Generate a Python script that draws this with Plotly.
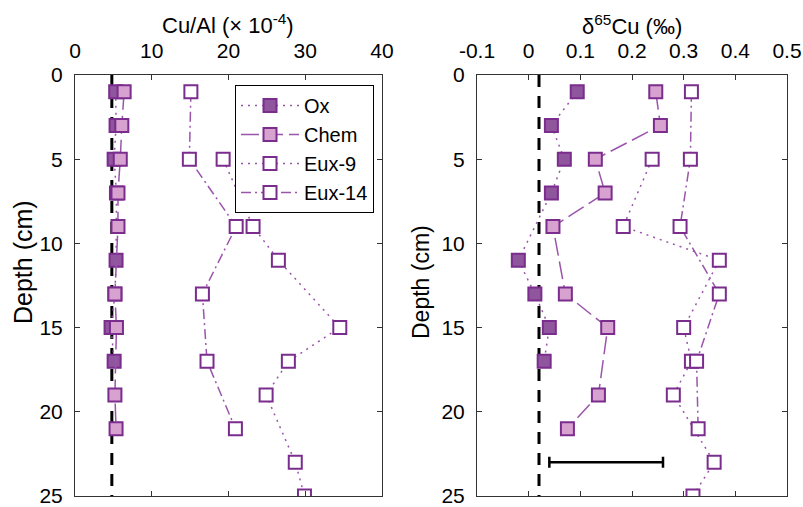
import plotly.graph_objects as go

# ---- data ----
ox_depth = [1, 3, 5, 7, 11, 13, 15, 17]
ox_cual = [5.3, 5.35, 5.1, 5.4, 5.35, 5.2, 4.7, 5.1]
ox_d65 = [0.094, 0.044, 0.069, 0.044, -0.02, 0.012, 0.04, 0.03]

chem_depth = [1, 3, 5, 7, 9, 13, 15, 19, 21]
chem_cual = [6.4, 6.1, 5.9, 5.6, 5.6, 5.2, 5.4, 5.2, 5.35]
chem_d65 = [0.246, 0.255, 0.129, 0.148, 0.047, 0.071, 0.153, 0.135, 0.075]

eux9_depth = [5, 9, 11, 15, 17, 19, 23, 25]
eux9_cual = [19.3, 23.2, 26.5, 34.5, 27.8, 24.9, 28.7, 29.9]
eux9_d65 = [0.239, 0.183, 0.369, 0.30, 0.315, 0.28, 0.359, 0.318]

eux14_depth = [1, 5, 9, 13, 17, 21]
eux14_cual = [15.1, 14.9, 21.0, 16.6, 17.2, 20.9]
eux14_d65 = [0.315, 0.313, 0.293, 0.369, 0.325, 0.328]

crust_cual = 4.8
crust_d65 = 0.02
err_center = 0.15
err_half = 0.11
err_depth = 23

x1_ticks = [0, 10, 20, 30, 40]
x2_ticks = [-0.1, 0, 0.1, 0.2, 0.3, 0.4, 0.5]
y_ticks = [0, 5, 10, 15, 20, 25]

# ---- styles ----
EDGE = "#7b2d8e"
LINE = "#9a55ab"
OX_FILL = "#8f559d"
CHEM_FILL = "#d8a2d0"
MS = 13

series = [
    ("Ox", ox_depth, ox_cual, ox_d65, OX_FILL, "2px,5px"),
    ("Chem", chem_depth, chem_cual, chem_d65, CHEM_FILL, "18px,6px"),
    ("Eux-9", eux9_depth, eux9_cual, eux9_d65, "white", "2px,5px"),
    ("Eux-14", eux14_depth, eux14_cual, eux14_d65, "white", "10px,4px,2px,4px"),
]

fig = go.Figure()

# reference dashed lines
fig.add_trace(go.Scatter(x=[crust_cual, crust_cual], y=[0, 25], mode="lines",
                         line=dict(color="black", width=3, dash="12px,9px"),
                         showlegend=False, xaxis="x", yaxis="y", hoverinfo="skip"))
fig.add_trace(go.Scatter(x=[crust_d65, crust_d65], y=[0, 25], mode="lines",
                         line=dict(color="black", width=3, dash="12px,9px"),
                         showlegend=False, xaxis="x2", yaxis="y2", hoverinfo="skip"))

for name, d, cu, dd, fill, dash in series:
    fig.add_trace(go.Scatter(x=cu, y=d, mode="lines+markers", name=name,
                             line=dict(color=LINE, width=1.5, dash=dash),
                             marker=dict(symbol="square", size=MS, color=fill,
                                         line=dict(color=EDGE, width=2)),
                             xaxis="x", yaxis="y"))
for name, d, cu, dd, fill, dash in series:
    fig.add_trace(go.Scatter(x=dd, y=d, mode="lines+markers", name=name, showlegend=False,
                             line=dict(color=LINE, width=1.5, dash=dash),
                             marker=dict(symbol="square", size=MS, color=fill,
                                         line=dict(color=EDGE, width=2)),
                             xaxis="x2", yaxis="y2"))

# error bar
fig.add_trace(go.Scatter(x=[err_center], y=[err_depth], mode="markers",
                         marker=dict(size=1, color="rgba(0,0,0,0)"),
                         error_x=dict(type="constant", value=err_half, color="black",
                                      thickness=2.5, width=5.5),
                         showlegend=False, xaxis="x2", yaxis="y2", hoverinfo="skip"))

axis_common = dict(showline=True, linecolor="#333333", linewidth=1, mirror="ticks",
                   ticks="inside", ticklen=5, tickcolor="#333333", showgrid=False,
                   zeroline=False, automargin=False, ticklabeloverflow="allow",
                   tickfont=dict(size=21, color="black"))

L, T = 75, 75
PW, PH = 712, 421
W, H = 803, 507
R = W - L - PW
B = H - T - PH


def px(xp):
    return (xp - L) / PW


def py(yp):
    return 1 - (yp - T) / PH


fig.update_layout(
    width=W, height=H,
    margin=dict(l=L, r=R, t=T, b=B, pad=0),
    plot_bgcolor="white", paper_bgcolor="white",
    font=dict(family="Liberation Sans, Arial, sans-serif", color="black"),
    xaxis=dict(domain=[0, px(382)], range=[0, 40], side="top", tickvals=x1_ticks,
               ticklabelstandoff=8, **axis_common),
    xaxis2=dict(domain=[px(477), 1], range=[-0.1, 0.5], side="top", anchor="y2",
                tickvals=x2_ticks, ticktext=[str(v) for v in x2_ticks],
                ticklabelstandoff=8, **axis_common),
    yaxis=dict(range=[25, 0], tickvals=y_ticks, anchor="x", ticklabelstandoff=7, **axis_common),
    yaxis2=dict(range=[25, 0], tickvals=y_ticks, anchor="x2", ticklabelstandoff=7, **axis_common),
    legend=dict(x=px(235), y=py(85), xanchor="left", yanchor="top",
                bgcolor="white", bordercolor="black", borderwidth=1,
                font=dict(size=20), tracegroupgap=0, itemwidth=58),
    showlegend=True,
    annotations=[
        dict(text="Cu/Al (× 10<sup>-4</sup>)", x=px(228), y=py(24), xref="paper", yref="paper",
             showarrow=False, font=dict(size=22), xanchor="center", yanchor="middle"),
        dict(text="δ<sup>65</sup>Cu (‰)", x=px(632), y=py(25), xref="paper", yref="paper",
             showarrow=False, font=dict(size=22), xanchor="center", yanchor="middle"),
        dict(text="Depth (cm)", x=px(23), y=py(262), xref="paper", yref="paper",
             showarrow=False, font=dict(size=25), textangle=-90,
             xanchor="center", yanchor="middle"),
        dict(text="Depth (cm)", x=px(421), y=py(282), xref="paper", yref="paper",
             showarrow=False, font=dict(size=23), textangle=-90,
             xanchor="center", yanchor="middle"),
    ],
)

# remove the default 8px page margin so the figure fills the window exactly
fig.write_html("out.html",
               config={"displayModeBar": False},
               post_script="document.body.style.margin='0';document.body.style.overflow='hidden';")
